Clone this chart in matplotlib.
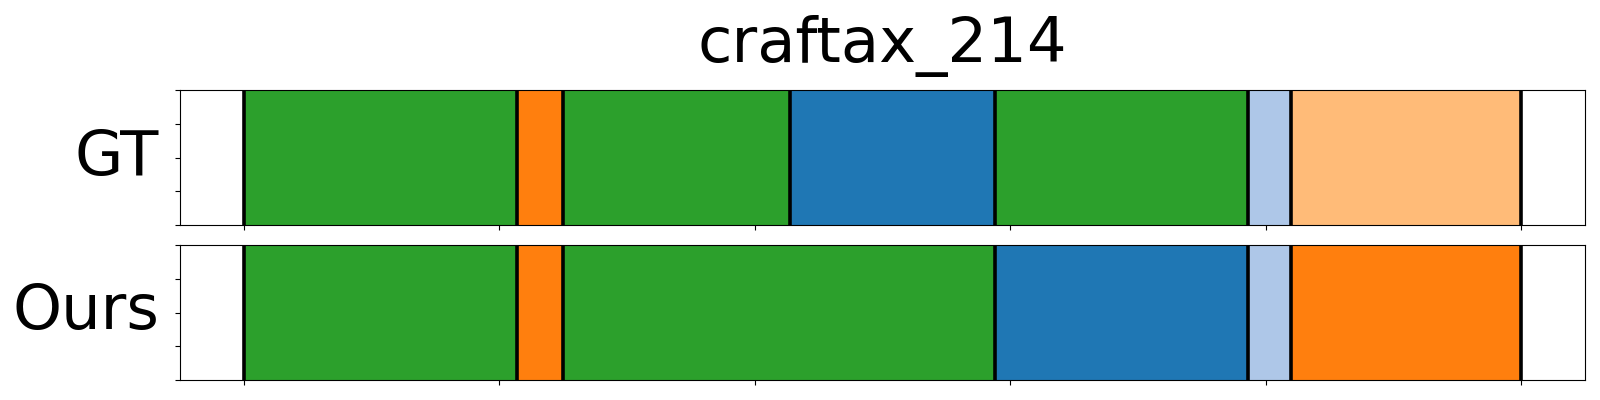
import matplotlib
matplotlib.use("Agg")
import matplotlib.pyplot as plt
import numpy as np

title = "craftax_214"
row_names = ["GT", "Ours"]

# segment boundaries (frame indices) and class ids for each row
gt_bounds = [0, 107, 125, 214, 294, 393, 410, 500]
gt_classes = [4, 2, 4, 0, 4, 1, 3]
ours_bounds = [0, 107, 125, 294, 393, 410, 500]
ours_classes = [4, 2, 4, 0, 1, 2]

rows = [(gt_bounds, gt_classes), (ours_bounds, ours_classes)]
cmap = plt.get_cmap("tab20")

fig = plt.figure(figsize=(16, 4), dpi=100)
axes_pos = [[0.1125, 0.4375, 0.878, 0.3375], [0.1125, 0.05, 0.878, 0.3375]]

for i, ((bounds, classes), name) in enumerate(zip(rows, row_names)):
    ax = fig.add_axes(axes_pos[i])
    for s, e, c in zip(bounds[:-1], bounds[1:], classes):
        ax.axvspan(s, e, ymin=0, ymax=1, color=cmap(c), lw=0)
    for b in bounds:
        ax.axvline(b, color="black", lw=2.6)
    span = bounds[-1] - bounds[0]
    ax.set_xlim(bounds[0] - 0.05 * span, bounds[-1] + 0.05 * span)
    ax.set_ylim(0, 1)
    ax.set_xticks(np.arange(0, bounds[-1] + 1, 100))
    ax.set_yticks(np.linspace(0, 1, 5))
    ax.set_xticklabels([])
    ax.set_yticklabels([])
    ax.set_ylabel(name, fontsize=45, rotation=0, ha="right", va="center")
    ax.yaxis.set_label_coords(-0.015, 0.5)
    if i == 0:
        ax.set_title(title, fontsize=45, pad=20)

fig.savefig("out.png", dpi=100)
